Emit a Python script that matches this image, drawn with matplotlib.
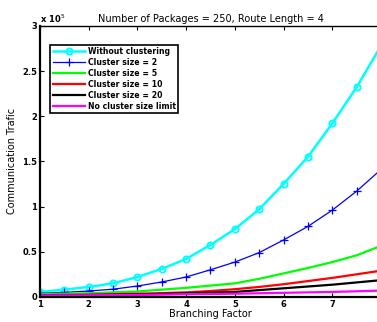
import matplotlib
matplotlib.use("Agg")
import matplotlib.pyplot as plt

# data (units of 1e5)
branching = [1, 1.5, 2, 2.5, 3, 3.5, 4, 4.5, 5, 5.5, 6, 6.5, 7, 7.5, 8]
without_clustering = [0.055, 0.08, 0.11, 0.15, 0.22, 0.31, 0.42, 0.575, 0.75, 0.97, 1.25, 1.55, 1.92, 2.32, 2.78]
cluster_2 = [0.04, 0.05, 0.065, 0.085, 0.12, 0.165, 0.22, 0.30, 0.385, 0.49, 0.63, 0.78, 0.96, 1.17, 1.41]
cluster_5 = [0.03, 0.035, 0.04, 0.05, 0.06, 0.08, 0.10, 0.125, 0.15, 0.20, 0.26, 0.32, 0.385, 0.46, 0.565]
cluster_10 = [0.02, 0.022, 0.025, 0.03, 0.035, 0.042, 0.05, 0.065, 0.085, 0.11, 0.14, 0.175, 0.21, 0.25, 0.29]
cluster_20 = [0.015, 0.017, 0.02, 0.023, 0.027, 0.033, 0.04, 0.047, 0.055, 0.075, 0.095, 0.115, 0.135, 0.16, 0.185]
no_limit = [0.015, 0.016, 0.018, 0.02, 0.022, 0.025, 0.03, 0.032, 0.035, 0.04, 0.045, 0.05, 0.055, 0.062, 0.07]

labels = ["Without clustering", "Cluster size = 2", "Cluster size = 5",
          "Cluster size = 10", "Cluster size = 20", "No cluster size limit"]

fig = plt.figure(figsize=(3.77, 3.22), dpi=100)
ax = fig.add_axes([0.106, 0.078, 0.9045, 0.8416])

ax.plot(branching, without_clustering, color="#00FFFF", lw=1.8, marker="o", ms=4.5,
        mfc="none", mew=1.3, label=labels[0])
ax.plot(branching, cluster_2, color="#0000FF", lw=0.9, marker="+", ms=6, mew=0.9,
        label=labels[1])
ax.plot(branching, cluster_5, color="#00FF00", lw=1.6, label=labels[2])
ax.plot(branching, cluster_10, color="#FF0000", lw=1.6, label=labels[3])
ax.plot(branching, cluster_20, color="black", lw=1.6, label=labels[4])
ax.plot(branching, no_limit, color="#FF00FF", lw=1.6, label=labels[5])

ax.set_xlim(1, 8)
ax.set_ylim(0, 3)
ax.set_xticks([1, 2, 3, 4, 5, 6, 7])
ax.set_yticks([0, 0.5, 1, 1.5, 2, 2.5, 3])
ax.set_yticklabels(["0", "0.5", "1", "1.5", "2", "2.5", "3"])
ax.tick_params(direction="in", length=3, width=0.8, labelsize=6, top=True, pad=2)
for t in ax.get_xticklabels() + ax.get_yticklabels():
    t.set_fontweight("bold")

for s in ("left", "bottom"):
    ax.spines[s].set_linewidth(1.6)
ax.spines["top"].set_linewidth(1.0)
ax.spines["right"].set_visible(False)

ax.set_title("Number of Packages = 250, Route Length = 4", fontsize=7, pad=3)
ax.set_xlabel("Branching Factor", fontsize=7, labelpad=0)
ax.set_ylabel("Communication Trafic", fontsize=7, labelpad=4)
ax.text(0.0, 1.005, r"x 10$^{5}$", transform=ax.transAxes, fontsize=6,
        fontweight="bold", ha="left", va="bottom")

leg = ax.legend(loc="upper left", bbox_to_anchor=(0.03, 0.93),
                prop={"weight": "bold", "size": 5.6}, fancybox=False,
                edgecolor="black", framealpha=1, handlelength=4.2,
                handletextpad=0.3, labelspacing=0.25, borderpad=0.3,
                borderaxespad=0)
leg.get_frame().set_linewidth(1.2)

fig.savefig("out.png", dpi=100)
